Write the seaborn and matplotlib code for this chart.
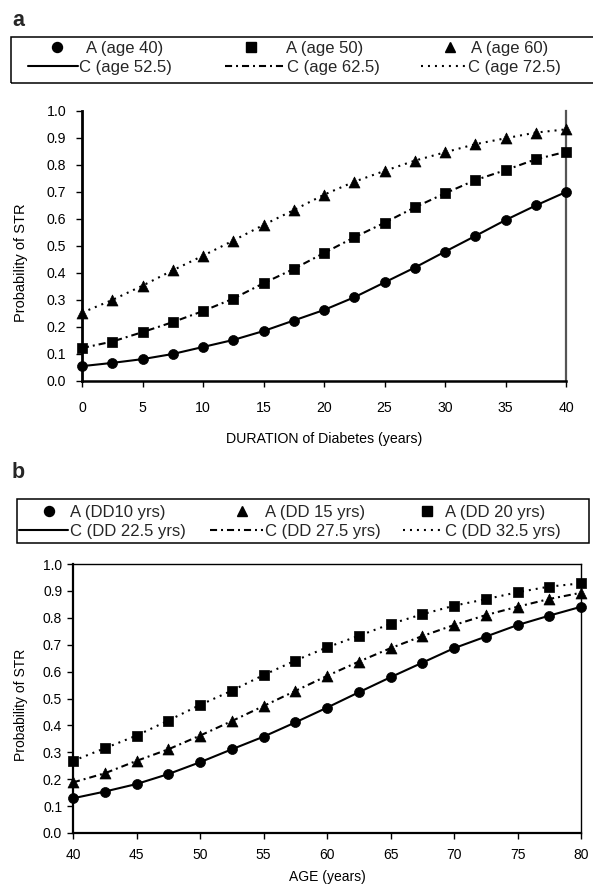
import matplotlib
matplotlib.use("Agg")
import matplotlib.pyplot as plt
import seaborn as sns
import pandas as pd
from matplotlib.lines import Line2D
from matplotlib.patches import Rectangle

# ---------------- data ----------------
duration = [0, 2.5, 5, 7.5, 10, 12.5, 15, 17.5, 20, 22.5, 25, 27.5, 30, 32.5, 35, 37.5, 40]
a_age40 = [0.055, 0.067, 0.081, 0.10, 0.126, 0.152, 0.185, 0.224, 0.263, 0.31, 0.365, 0.42, 0.479, 0.537, 0.596, 0.65, 0.70]
a_age50 = [0.122, 0.146, 0.181, 0.218, 0.259, 0.305, 0.362, 0.415, 0.474, 0.532, 0.586, 0.643, 0.695, 0.744, 0.781, 0.821, 0.849]
a_age60 = [0.253, 0.30, 0.353, 0.41, 0.464, 0.52, 0.578, 0.633, 0.69, 0.738, 0.778, 0.816, 0.847, 0.877, 0.899, 0.92, 0.932]

age = [40, 42.5, 45, 47.5, 50, 52.5, 55, 57.5, 60, 62.5, 65, 67.5, 70, 72.5, 75, 77.5, 80]
b_dd10 = [0.129, 0.154, 0.182, 0.219, 0.263, 0.311, 0.358, 0.411, 0.466, 0.523, 0.579, 0.633, 0.687, 0.73, 0.773, 0.808, 0.841]
b_dd15 = [0.188, 0.222, 0.268, 0.311, 0.362, 0.416, 0.472, 0.528, 0.584, 0.637, 0.687, 0.732, 0.773, 0.81, 0.841, 0.87, 0.893]
b_dd20 = [0.268, 0.315, 0.362, 0.418, 0.476, 0.529, 0.587, 0.641, 0.69, 0.733, 0.777, 0.813, 0.845, 0.869, 0.895, 0.916, 0.928]

labels_a = ["A (age 40)", "A (age 50)", "A (age 60)", "C (age 52.5)", "C (age 62.5)", "C (age 72.5)"]
labels_b = ["A (DD10 yrs)", "A (DD 15 yrs)", "A (DD 20 yrs)", "C (DD 22.5 yrs)", "C (DD 27.5 yrs)", "C (DD 32.5 yrs)"]

yticks = [0.0, 0.1, 0.2, 0.3, 0.4, 0.5, 0.6, 0.7, 0.8, 0.9, 1.0]
xticks_a = [0, 5, 10, 15, 20, 25, 30, 35, 40]
xticks_b = [40, 45, 50, 55, 60, 65, 70, 75, 80]

# ---------------- style ----------------
sns.set_theme(style="white")
plt.rcParams["font.family"] = ["Liberation Sans", "DejaVu Sans"]

W, H = 593, 886
fig = plt.figure(figsize=(W / 100, H / 100), dpi=100)
fig.patch.set_facecolor("white")


def px(x0, y0, x1, y1):
    return [x0 / W, 1 - y1 / H, (x1 - x0) / W, (y1 - y0) / H]


SOLID = "-"
DASHDOT = (0, (3.4, 1.9, 0.95, 1.9))
DOTTED = (0, (0.95, 2.4))
MSIZE = {"o": 7.2, "s": 6.5, "^": 7.9}


def draw_series(ax, x, y, marker, ls):
    df = pd.DataFrame({"x": x, "y": y})
    sns.lineplot(data=df, x="x", y="y", ax=ax, color="black", linewidth=1.5,
                 linestyle=ls, zorder=2)
    sns.scatterplot(data=df, x="x", y="y", ax=ax, color="black", marker=marker,
                    s=MSIZE[marker] ** 2, edgecolor="black", linewidth=0.5,
                    zorder=3, clip_on=False)


def style_axes(ax, xticks, xlabel, full_box, fs, ylfs, xpad, ypad, xlpad, ylcoords):
    ax.set_ylim(0, 1.0)
    ax.set_yticks(yticks)
    ax.set_yticklabels([f"{v:.1f}" for v in yticks])
    ax.set_xticks(xticks)
    ax.set_xlim(xticks[0], xticks[-1])
    ax.set_xlabel(xlabel, fontsize=fs, labelpad=xlpad, color="black")
    ax.set_ylabel("Probability of STR", fontsize=ylfs, color="black")
    ax.yaxis.set_label_coords(*ylcoords)
    ax.tick_params(axis="both", direction="out", length=4.3, width=1, colors="black",
                   labelsize=fs, bottom=True, left=True)
    ax.tick_params(axis="x", pad=xpad)
    ax.tick_params(axis="y", pad=ypad)
    for s in ax.spines.values():
        s.set_color("black")
        s.set_linewidth(1.0)
    if not full_box:
        ax.spines["left"].set_linewidth(2.0)
        ax.spines["bottom"].set_linewidth(1.8)
        ax.spines["top"].set_visible(False)
        ax.spines["right"].set_color("#555555")
        ax.spines["right"].set_linewidth(1.6)
    else:
        ax.spines["left"].set_linewidth(1.6)
        ax.spines["bottom"].set_linewidth(1.6)
    ax.set_facecolor("white")


# ---------------- panel a ----------------
axa = fig.add_axes(px(82, 111, 566, 381))
draw_series(axa, duration, a_age40, "o", SOLID)
draw_series(axa, duration, a_age50, "s", DASHDOT)
draw_series(axa, duration, a_age60, "^", DOTTED)
style_axes(axa, xticks_a, "DURATION of Diabetes (years)", False,
           fs=10.2, ylfs=10.5, xpad=10, ypad=7, xlpad=12,
           ylcoords=(-0.112, 0.44))

# ---------------- panel b ----------------
axb = fig.add_axes(px(73, 564, 581, 833))
draw_series(axb, age, b_dd10, "o", SOLID)
draw_series(axb, age, b_dd15, "^", DASHDOT)
draw_series(axb, age, b_dd20, "s", DOTTED)
style_axes(axb, xticks_b, "AGE (years)", True,
           fs=10, ylfs=10, xpad=6.5, ypad=3.5, xlpad=5.5,
           ylcoords=(-0.089, 0.476))


# ---------------- legends (drawn as boxes of keys) ----------------
def fx(x):
    return x / W


def fy(y):
    return 1 - y / H


def draw_legend(box, markers, labels, mx, mtx, lines, ltx, rows, fs):
    x0, y0, x1, y1 = box
    fig.add_artist(Rectangle((fx(x0), fy(y1)), fx(x1) - fx(x0), fy(y0) - fy(y1),
                             transform=fig.transFigure, fill=False,
                             edgecolor="black", linewidth=1.1))
    r1, r2 = rows
    for m, x, tx, lab in zip(markers, mx, mtx, labels[:3]):
        fig.add_artist(Line2D([fx(x)], [fy(r1)], transform=fig.transFigure,
                              marker=m, markersize=MSIZE[m], color="black",
                              linestyle="none"))
        fig.text(fx(tx), fy(r1), lab, fontsize=fs, ha="left", va="center_baseline")
    for ls, (lx0, lx1), tx, lab in zip((SOLID, DASHDOT, DOTTED), lines, ltx, labels[3:]):
        fig.add_artist(Line2D([fx(lx0), fx(lx1)], [fy(r2), fy(r2)],
                              transform=fig.transFigure, color="black",
                              linewidth=1.5, linestyle=ls))
        fig.text(fx(tx), fy(r2), lab, fontsize=fs, ha="left", va="center_baseline")


draw_legend((11, 37, 600, 83), ["o", "s", "^"], labels_a,
            mx=[57, 251, 450], mtx=[86, 286, 471],
            lines=[(28, 78), (225, 284), (421, 466)], ltx=[79, 287, 468],
            rows=(47, 66), fs=12.0)

draw_legend((17, 499, 589, 543), ["o", "^", "s"], labels_b,
            mx=[49, 242, 427], mtx=[70, 265, 445],
            lines=[(19, 68), (210, 263), (403, 443)], ltx=[70, 265, 445],
            rows=(511, 530), fs=12.0)

fig.text(fx(12), fy(26), "a", fontsize=15.5, fontweight="bold", ha="left", va="baseline")
fig.text(fx(12), fy(478), "b", fontsize=15.5, fontweight="bold", ha="left", va="baseline")

fig.savefig("out.png", dpi=100, facecolor="white")
